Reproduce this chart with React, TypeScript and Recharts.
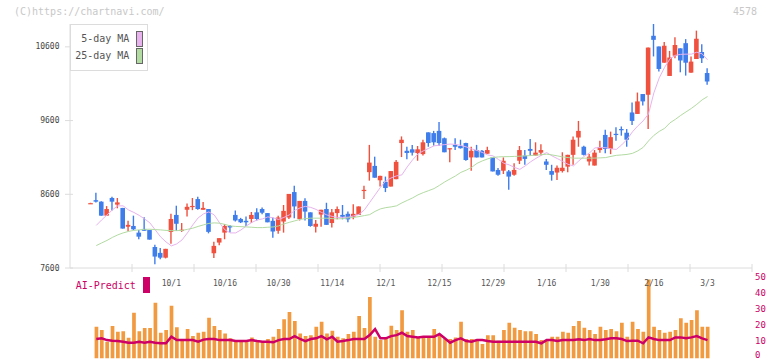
import React from 'react';
import { ComposedChart, Bar, Line, XAxis, YAxis, Legend } from 'recharts';

const openP = [
  8480, 8520, 8500, 8310, 8550, 8460, 8415, 8160, 8170, 8080,
  8130, 8115, 7885, 7805, 7740, 8090, 8320, 8105, 8390, 8435,
  8535, 8390, 8400, 7800, 7945, 8080, 8170, 8320, 8265, 8240,
  8265, 8355, 8400, 8345, 8240, 8105, 8230, 8285, 8630, 8265,
  8510, 8355, 8160, 8325, 8400, 8210, 8345, 8320, 8335, 8295,
  8320, 8650, 8900, 8985, 8790, 8770, 8705, 8805, 9295, 9190,
  9210, 9160, 9145, 9440, 9430, 9460, 9360, 9215, 9270, 9255,
  9295, 9100, 9200, 9190, 9150, 9100, 8930, 8920, 8910, 8865,
  9055, 9125, 9215, 9125, 9165, 9045, 8915, 8895, 8915, 8975,
  9135, 9370, 9245, 9045, 8990, 9200, 9405, 9215, 9420, 9485,
  9435, 9710, 9690, 9960, 9950, 10750, 10605, 10385, 10205, 10480,
  10580, 10650, 10250, 10435, 10530, 10245,
];

const highP = [
  8485, 8620, 8505, 8440, 8565, 8550, 8415, 8240, 8310, 8115,
  8290, 8115, 7915, 7870, 7860, 8335, 8445, 8210, 8475, 8550,
  8565, 8495, 8400, 7955, 8005, 8195, 8185, 8380, 8280, 8300,
  8360, 8410, 8420, 8345, 8285, 8310, 8455, 8605, 8715, 8510,
  8545, 8355, 8250, 8390, 8485, 8400, 8435, 8455, 8365, 8465,
  8435, 8715, 9270, 9110, 8850, 8840, 8915, 9065, 9385, 9245,
  9270, 9255, 9340, 9440, 9460, 9580, 9370, 9225, 9360, 9340,
  9300, 9245, 9270, 9200, 9245, 9100, 8955, 9100, 8930, 9020,
  9255, 9200, 9350, 9305, 9280, 9080, 9000, 8990, 9170, 9135,
  9385, 9595, 9260, 9145, 9200, 9325, 9475, 9450, 9510, 9520,
  9485, 9845, 9980, 9960, 10590, 10910, 10605, 10665, 10545, 10730,
  10580, 10705, 10470, 10820, 10635, 10310,
];

const lowP = [
  8475, 8490, 8310, 8310, 8380, 8410, 8135, 8100, 8115, 7990,
  8105, 7985, 7650, 7720, 7730, 7930, 8105, 8090, 8300, 8385,
  8390, 8390, 8070, 7735, 7910, 7990, 8080, 8230, 8210, 8170,
  8210, 8245, 8330, 8220, 8010, 8065, 8080, 8265, 8275, 8245,
  8245, 8160, 8080, 8160, 8185, 8150, 8260, 8260, 8220, 8260,
  8320, 8535, 8785, 8825, 8705, 8630, 8705, 8805, 9105, 9075,
  9125, 9055, 9125, 9245, 9260, 9260, 9170, 9035, 9200, 9220,
  9055, 8920, 9100, 9100, 9150, 8910, 8850, 8875, 8660, 8850,
  9010, 9000, 9125, 9125, 9125, 8930, 8785, 8795, 8895, 8900,
  9000, 9245, 9125, 8990, 8990, 9165, 9155, 9145, 9325, 9395,
  9245, 9540, 9690, 9805, 9485, 10470, 10265, 10385, 10205, 10445,
  10255, 10210, 10250, 10435, 10380, 10085,
];

const closeP = [
  8480, 8500, 8310, 8400, 8500, 8490, 8135, 8185, 8125, 8025,
  8105, 7985, 7755, 7740, 7860, 8265, 8200, 8120, 8430, 8442,
  8400, 8415, 8090, 7900, 8005, 8170, 8150, 8245, 8220, 8220,
  8320, 8265, 8350, 8220, 8095, 8285, 8375, 8605, 8435, 8510,
  8365, 8170, 8200, 8390, 8185, 8355, 8400, 8295, 8260, 8335,
  8435, 8660, 9030, 8825, 8850, 8685, 8915, 9040, 9340, 9160,
  9165, 9210, 9305, 9295, 9305, 9295, 9170, 9225, 9245, 9225,
  9065, 9190, 9100, 9100, 9200, 8910, 8865, 9055, 8840, 8930,
  9200, 9080, 9190, 9165, 9200, 9000, 8865, 8960, 8960, 9135,
  9340, 9460, 9135, 9110, 9165, 9240, 9215, 9375, 9410, 9475,
  9340, 9595, 9860, 9860, 10590, 10695, 10300, 10615, 10455, 10625,
  10415, 10385, 10400, 10710, 10445, 10130,
];

const ma5 = [
  null, 8178, 8252, 8320, 8388, 8443, 8443, 8388, 8354, 8314,
  8266, 8212, 8117, 8022, 7954, 7900, 7927, 7981, 8076, 8185,
  8280, 8334, 8361, 8320, 8212, 8117, 8076, 8076, 8117, 8171,
  8218, 8252, 8266, 8293, 8280, 8259, 8286, 8320, 8381, 8415,
  8436, 8422, 8395, 8354, 8320, 8300, 8286, 8286, 8289, 8307,
  8327, 8388, 8490, 8592, 8694, 8782, 8822, 8850, 8863, 8972,
  9067, 9148, 9189, 9223, 9257, 9266, 9274, 9281, 9277, 9263,
  9243, 9216, 9195, 9168, 9134, 9121, 9073, 9022, 8999, 8965,
  8938, 8985, 9040, 9087, 9128, 9166, 9121, 9084, 9046, 9006,
  8985, 9053, 9114, 9162, 9229, 9234, 9232, 9216, 9209, 9270,
  9345, 9447, 9528, 9596, 9691, 9976, 10179, 10322, 10437, 10485,
  10498, 10501, 10501, 10528, 10505, 10424,
];

const ma25 = [
  null, 7904, 7940, 7974, 8015, 8049, 8076, 8096, 8110, 8117,
  8124, 8126, 8121, 8117, 8110, 8107, 8107, 8110, 8124, 8140,
  8164, 8185, 8205, 8212, 8208, 8191, 8171, 8164, 8161, 8157,
  8153, 8148, 8148, 8153, 8157, 8171, 8198, 8219, 8239, 8259,
  8270, 8276, 8276, 8276, 8276, 8270, 8266, 8270, 8280, 8286,
  8297, 8311, 8324, 8368, 8402, 8419, 8429, 8443, 8483, 8517,
  8551, 8592, 8623, 8650, 8677, 8721, 8768, 8809, 8849, 8897,
  8927, 8965, 9019, 9053, 9080, 9101, 9107, 9110, 9111, 9114,
  9117, 9121, 9125, 9131, 9137, 9144, 9134, 9121, 9107, 9098,
  9090, 9090, 9090, 9090, 9091, 9094, 9098, 9114, 9128, 9134,
  9141, 9155, 9189, 9236, 9324, 9399, 9453, 9494, 9569, 9616,
  9670, 9718, 9765, 9820, 9881, 9926,
];

const volume = [
  null, 19.8, 17.8, 10.5, 20.3, 16.7, 17.1, 13.0, 28.6, 17.1,
  19.0, 19.0, 34.8, 16.1, 17.8, 32.9, 19.6, 11.5, 18.4, 14.0,
  16.1, 16.7, 25.4, 20.3, 17.8, 15.7, 12.6, 11.5, 11.5, 11.5,
  13.2, 11.5, 10.9, 12.2, 13.6, 18.4, 24.6, 29.0, 23.4, 15.7,
  14.0, 14.6, 19.8, 22.9, 15.7, 17.3, 13.6, 12.6, 15.3, 16.7,
  26.5, 19.0, 38.5, 13.6, 11.5, 13.2, 20.4, 17.8, 30.2, 16.7,
  17.8, 13.6, 13.2, 13.2, 18.4, 14.6, 12.2, 12.2, 13.2, 22.9,
  12.2, 12.2, 10.9, 9.0, 14.6, 14.6, 11.1, 17.8, 22.3, 19.2,
  17.8, 17.1, 17.1, 15.3, 11.5, 10.9, 13.6, 13.6, 16.7, 16.1,
  20.3, 23.4, 19.2, 17.8, 15.3, 19.8, 17.8, 18.4, 17.1, 22.3,
  13.6, 22.9, 18.4, 16.7, 49.4, 19.8, 17.8, 16.1, 16.7, 17.8,
  25.1, 22.3, 24.0, 30.2, 19.8, 19.8,
];

const aiPredict = [
  null, 12.2, 12.6, 11.5, 11.1, 10.9, 10.5, 9.9, 9.9, 10.5,
  9.9, 10.5, 9.9, 9.5, 9.5, 13.6, 11.5, 11.5, 11.5, 11.5,
  10.5, 11.8, 12.2, 12.2, 11.5, 11.5, 11.5, 10.9, 10.9, 10.9,
  11.5, 10.9, 10.5, 10.5, 10.1, 11.5, 12.2, 12.2, 14.0, 12.2,
  10.9, 12.2, 12.6, 14.0, 12.0, 13.6, 10.5, 10.9, 11.5, 12.2,
  12.2, 12.2, 14.6, 18.4, 12.6, 12.6, 14.0, 14.6, 16.1, 14.0,
  13.6, 13.2, 13.6, 13.6, 13.6, 15.3, 12.6, 9.9, 11.5, 12.6,
  10.9, 10.5, 11.5, 11.5, 10.9, 10.5, 10.5, 10.5, 10.5, 10.5,
  10.5, 10.5, 10.5, 10.5, 9.5, 11.5, 11.5, 10.9, 11.5, 11.5,
  11.5, 12.0, 11.5, 12.2, 11.5, 11.5, 12.0, 12.6, 12.6, 12.2,
  10.9, 11.1, 11.1, 9.5, 13.2, 12.2, 11.5, 11.5, 11.5, 13.2,
  13.2, 12.6, 13.2, 14.0, 12.6, 11.5,
];

const dateTicks = [16, 26, 36, 46, 56, 66, 76, 86, 96, 106, 116];
const dateLabels = ['10/1', '10/16', '10/30', '11/14', '12/1', '12/15', '12/29', '1/16', '1/30', '2/16', '3/3'];
const priceTicks = [7600, 8600, 9600, 10600];
const predictTicks = [0, 10, 20, 30, 40, 50];

const UP = '#f0513f';
const DOWN = '#3f7deb';
const MA5_COLOR = '#e8b2ee';
const MA25_COLOR = '#b2dba2';
const AI_COLOR = '#cc0066';
const AXIS = '#dcdcdc';
const FONT = '"DejaVu Sans Mono", monospace';
const X_DOMAIN = [-2.9, 124.3];

// axis tick marks split the plot width into 11 equal parts
const gridTicks = Array.from({ length: 11 }, (_, k) => X_DOMAIN[0] + ((k + 1) * (X_DOMAIN[1] - X_DOMAIN[0])) / 11);

const rows = openP.map((o, k) => ({
  i: k + 1,
  o,
  h: highP[k],
  l: lowP[k],
  c: closeP[k],
  range: [lowP[k], highP[k]],
  ma5: ma5[k],
  ma25: ma25[k],
  vol: volume[k],
  ai: aiPredict[k],
}));

const priceMax = Math.max(...highP);

const Candle = (props: any) => {
  const { x, y, width, height, payload } = props;
  if (x == null || y == null || !payload) return null;
  const top = Math.min(y, y + height);
  const span = Math.abs(height);
  const { o, h, l, c } = payload;
  const py = (v: number) => (h === l ? top : top + ((h - v) / (h - l)) * span);
  const cx = x + width / 2;
  const color = c >= o ? UP : DOWN;
  const bTop = py(Math.max(o, c));
  const bBot = py(Math.min(o, c));
  return (
    <g>
      <line x1={cx} x2={cx} y1={top} y2={top + span} stroke={color} strokeWidth={1.4} />
      <rect x={x} y={bTop} width={width} height={Math.max(bBot - bTop, 1.2)} fill={color} />
    </g>
  );
};

const GridTick = (p: any) => (
  <line x1={p.x} x2={p.x} y1={p.y - 4} y2={p.y + 4} stroke={AXIS} strokeWidth={1} />
);

const PriceTick = (p: any) => (
  <g>
    <line x1={p.x - 5} x2={p.x + 3} y1={p.y} y2={p.y} stroke={AXIS} strokeWidth={1} />
    <text x={p.x - 10.5} y={p.y} textAnchor="end" dominantBaseline="central" fontSize={8} fill="#444" fontFamily={FONT}>
      {p.payload.value}
    </text>
  </g>
);

const DateTick = (p: any) => {
  const k = dateTicks.indexOf(p.payload.value);
  return (
    <text x={p.x} y={p.y + 4.5} textAnchor="middle" dominantBaseline="central" fontSize={8} fill="#555" fontFamily={FONT}>
      {k >= 0 ? dateLabels[k] : ''}
    </text>
  );
};

// the bottom label sits on the page edge, so lift it just enough to stay whole
const PredictTick = (p: any) => (
  <text
    x={p.x + 3}
    y={p.payload.value === 0 ? p.y - 4 : p.y - 1.3}
    textAnchor="start"
    dominantBaseline="central"
    fontSize={9}
    fill={AI_COLOR}
    fontFamily={FONT}
  >
    {p.payload.value}
  </text>
);

const maOrder = ['ma5', 'ma25'];

const MaLegend = ({ payload }: any) => {
  const items = (payload || [])
    .filter((p: any) => maOrder.includes(p.dataKey))
    .sort((a: any, b: any) => maOrder.indexOf(a.dataKey) - maOrder.indexOf(b.dataKey));
  return (
    <div
      style={{
        width: 78,
        height: 47,
        boxSizing: 'border-box',
        border: `1px solid ${AXIS}`,
        background: '#fff',
        paddingTop: 5.5,
        fontFamily: FONT,
        fontSize: 10,
        color: '#555',
      }}
    >
      {items.map((p: any) => (
        <div
          key={p.dataKey}
          style={{ display: 'flex', justifyContent: 'flex-end', alignItems: 'center', height: 17, paddingRight: 4.3 }}
        >
          <span style={{ lineHeight: '10px' }}>{p.value}</span>
          <span
            style={{
              display: 'inline-block',
              width: 4.7,
              height: 13.5,
              marginLeft: 6.7,
              background: p.color,
              border: '1px solid #666',
            }}
          />
        </div>
      ))}
    </div>
  );
};

const AiLegend = ({ payload }: any) => {
  const p = (payload || []).find((e: any) => e.dataKey === 'ai');
  if (!p) return null;
  return (
    <div style={{ display: 'flex', alignItems: 'center', fontFamily: FONT, fontSize: 10, color: p.color, whiteSpace: 'nowrap' }}>
      <span style={{ lineHeight: '10px', marginTop: 2 }}>{p.value}</span>
      <span style={{ display: 'inline-block', width: 7, height: 16.5, marginLeft: 7, background: p.color }} />
    </div>
  );
};

const App: React.FC = () => (
  <div
    style={{
      position: 'absolute',
      left: 0,
      top: 0,
      width: 772,
      height: 361,
      overflow: 'hidden',
      background: '#fff',
      fontFamily: FONT,
    }}
  >
    <div style={{ position: 'absolute', left: 14, top: 5, fontSize: 10, lineHeight: '14px', color: '#c8c8c8' }}>
      (C)https://chartnavi.com/
    </div>
    <div style={{ position: 'absolute', right: 15, top: 5, fontSize: 10, lineHeight: '14px', color: '#c8c8c8' }}>
      4578
    </div>

    <div style={{ position: 'absolute', left: 0, top: 0 }}>
      <ComposedChart width={772} height={290} data={rows} margin={{ top: 24, right: 20, bottom: 12, left: 0 }}>
        <XAxis
          dataKey="i"
          type="number"
          domain={X_DOMAIN}
          ticks={gridTicks}
          interval={0}
          height={10}
          axisLine={{ stroke: AXIS }}
          tickLine={false}
          tickSize={0}
          tickMargin={0}
          tick={GridTick}
          allowDataOverflow
        />
        <YAxis
          type="number"
          domain={[7600, priceMax]}
          ticks={priceTicks}
          interval={0}
          width={70}
          axisLine={{ stroke: AXIS }}
          tickLine={false}
          tickSize={0}
          tickMargin={0}
          tick={PriceTick}
          allowDataOverflow
        />
        <Legend
          layout="vertical"
          align="center"
          verticalAlign="middle"
          content={MaLegend}
          wrapperStyle={{ left: 70, top: 24, width: 78, height: 47 }}
        />
        <Line dataKey="ma5" name="5-day MA" stroke={MA5_COLOR} strokeWidth={1} dot={false} isAnimationActive={false} />
        <Line dataKey="ma25" name="25-day MA" stroke={MA25_COLOR} strokeWidth={1} dot={false} isAnimationActive={false} />
        <Bar dataKey="range" barSize={4.6} shape={Candle} legendType="none" isAnimationActive={false} />
      </ComposedChart>
    </div>

    <div style={{ position: 'absolute', left: 0, top: 270 }}>
      <ComposedChart width={772} height={91} data={rows} margin={{ top: 7.5, right: 0, bottom: 2.5, left: 70 }}>
        <XAxis
          dataKey="i"
          type="number"
          domain={X_DOMAIN}
          orientation="top"
          height={1}
          ticks={dateTicks}
          interval={0}
          axisLine={false}
          tickLine={false}
          tickSize={0}
          tickMargin={0}
          tick={DateTick}
          allowDataOverflow
        />
        <YAxis
          yAxisId="r"
          orientation="right"
          type="number"
          domain={[0, 50]}
          ticks={predictTicks}
          interval={0}
          width={20}
          axisLine={false}
          tickLine={false}
          tickSize={0}
          tickMargin={0}
          tick={PredictTick}
          allowDataOverflow
        />
        <Legend
          layout="vertical"
          align="center"
          verticalAlign="middle"
          content={AiLegend}
          wrapperStyle={{ left: 75.7, top: 6.7, width: 80 }}
        />
        <Bar yAxisId="r" dataKey="vol" barSize={3.7} fill="#f29a40" legendType="none" isAnimationActive={false} />
        <Line
          yAxisId="r"
          dataKey="ai"
          name="AI-Predict"
          stroke={AI_COLOR}
          strokeWidth={2.5}
          dot={false}
          isAnimationActive={false}
        />
      </ComposedChart>
    </div>
  </div>
);

export default App;
